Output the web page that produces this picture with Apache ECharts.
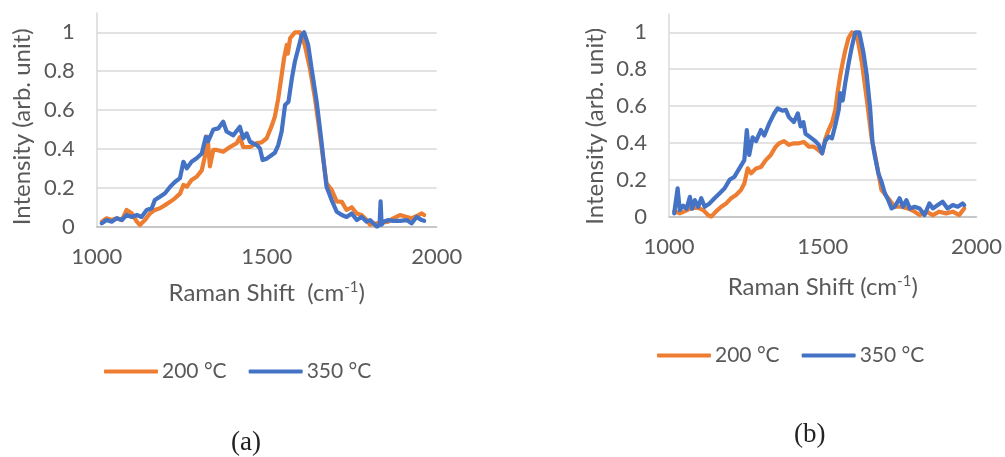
<!DOCTYPE html>
<html>
<head>
<meta charset="utf-8">
<script src="https://cdn.jsdelivr.net/npm/echarts@6/dist/echarts.min.js"></script>
<style>
  html, body { margin: 0; padding: 0; background: #fff; }
  #main { width: 1005px; height: 457px; }
</style>
</head>
<body>
<div id="main"></div>
<script>
// series names (legend)
var seriesNames = ['200 °C', '350 °C'];
var panelCaptions = ['(a)', '(b)'];

// panel (a): [Raman shift, intensity]
var a200 = [
  [1015, 0.026], [1029, 0.043], [1044, 0.034], [1059, 0.043], [1074, 0.034], [1088, 0.086],
  [1103, 0.069], [1118, 0.026], [1127, 0.009], [1142, 0.034], [1157, 0.069], [1171, 0.086],
  [1186, 0.095], [1201, 0.111], [1216, 0.128], [1230, 0.146], [1245, 0.17], [1255, 0.215],
  [1265, 0.206], [1279, 0.24], [1294, 0.257], [1309, 0.29], [1318, 0.36], [1326, 0.463],
  [1333, 0.31], [1343, 0.395], [1353, 0.395], [1372, 0.386], [1392, 0.41], [1412, 0.43],
  [1421, 0.46], [1431, 0.41], [1451, 0.41], [1471, 0.43], [1485, 0.434], [1500, 0.455],
  [1515, 0.52], [1524, 0.566], [1534, 0.66], [1544, 0.78], [1551, 0.866], [1559, 0.935],
  [1562, 0.89], [1569, 0.97], [1583, 1.0], [1598, 1.0], [1612, 0.935], [1627, 0.815],
  [1642, 0.66], [1657, 0.47], [1666, 0.35], [1676, 0.223], [1691, 0.19], [1706, 0.13],
  [1721, 0.128], [1735, 0.086], [1750, 0.1], [1765, 0.068], [1779, 0.06], [1794, 0.034],
  [1804, 0.01], [1824, 0.017], [1858, 0.026], [1872, 0.043], [1892, 0.06], [1912, 0.05],
  [1926, 0.043], [1941, 0.055], [1956, 0.068], [1963, 0.06]
];
var a350 = [
  [1015, 0.017], [1029, 0.034], [1044, 0.026], [1059, 0.043], [1074, 0.034], [1088, 0.06],
  [1103, 0.05], [1118, 0.06], [1132, 0.05], [1147, 0.086], [1162, 0.095], [1171, 0.137],
  [1186, 0.154], [1201, 0.172], [1216, 0.206], [1230, 0.23], [1245, 0.25], [1255, 0.334],
  [1265, 0.3], [1279, 0.334], [1294, 0.352], [1309, 0.377], [1321, 0.463], [1328, 0.44],
  [1343, 0.5], [1358, 0.506], [1372, 0.54], [1382, 0.49], [1402, 0.47], [1421, 0.514],
  [1431, 0.455], [1441, 0.48], [1451, 0.437], [1471, 0.42], [1480, 0.403], [1488, 0.343],
  [1500, 0.35], [1515, 0.369], [1524, 0.38], [1529, 0.37], [1534, 0.42], [1544, 0.49],
  [1554, 0.626], [1564, 0.643], [1574, 0.763], [1583, 0.85], [1593, 0.918], [1603, 0.986],
  [1610, 1.0], [1622, 0.935], [1632, 0.815], [1647, 0.643], [1660, 0.455], [1672, 0.266],
  [1676, 0.206], [1691, 0.137], [1706, 0.077], [1721, 0.06], [1735, 0.05], [1750, 0.068],
  [1765, 0.034], [1779, 0.05], [1794, 0.026], [1804, 0.034], [1824, 0.0], [1832, 0.01],
  [1835, 0.13], [1838, 0.01], [1843, 0.026], [1858, 0.034], [1872, 0.03], [1892, 0.03],
  [1912, 0.034], [1926, 0.017], [1941, 0.05], [1956, 0.034], [1963, 0.03]
];

// panel (b)
var b200 = [
  [1017, 0.03], [1035, 0.018], [1052, 0.03], [1073, 0.048], [1095, 0.048], [1111, 0.036],
  [1127, 0.009], [1137, 0.0], [1154, 0.03], [1170, 0.054], [1186, 0.072], [1202, 0.1],
  [1218, 0.118], [1234, 0.145], [1245, 0.18], [1256, 0.262], [1267, 0.235], [1283, 0.262],
  [1299, 0.27], [1315, 0.307], [1331, 0.335], [1347, 0.38], [1358, 0.398], [1374, 0.41],
  [1390, 0.39], [1406, 0.398], [1422, 0.398], [1439, 0.405], [1455, 0.38], [1471, 0.38],
  [1487, 0.36], [1498, 0.344], [1508, 0.42], [1519, 0.47], [1530, 0.51], [1541, 0.58],
  [1548, 0.67], [1557, 0.767], [1563, 0.82], [1573, 0.9], [1584, 0.97], [1595, 1.0],
  [1611, 0.985], [1627, 0.84], [1643, 0.64], [1659, 0.425], [1670, 0.335], [1691, 0.145],
  [1713, 0.1], [1734, 0.054], [1756, 0.054], [1777, 0.045], [1799, 0.027], [1815, 0.009],
  [1837, 0.027], [1858, 0.009], [1879, 0.027], [1901, 0.018], [1923, 0.027], [1944, 0.009],
  [1960, 0.045]
];
var b350 = [
  [1017, 0.018], [1028, 0.154], [1035, 0.036], [1046, 0.06], [1057, 0.043], [1068, 0.108],
  [1075, 0.043], [1084, 0.09], [1095, 0.054], [1105, 0.1], [1116, 0.054], [1132, 0.072],
  [1148, 0.1], [1165, 0.127], [1181, 0.154], [1197, 0.2], [1213, 0.217], [1229, 0.262],
  [1245, 0.307], [1253, 0.47], [1261, 0.335], [1272, 0.43], [1283, 0.41], [1299, 0.47],
  [1310, 0.44], [1326, 0.506], [1342, 0.56], [1353, 0.587], [1369, 0.575], [1380, 0.58],
  [1390, 0.54], [1406, 0.513], [1419, 0.56], [1428, 0.49], [1437, 0.513], [1444, 0.45],
  [1460, 0.43], [1476, 0.41], [1487, 0.39], [1498, 0.344], [1508, 0.41], [1519, 0.434],
  [1530, 0.425], [1541, 0.497], [1552, 0.58], [1557, 0.67], [1565, 0.63], [1573, 0.723],
  [1584, 0.83], [1595, 0.925], [1606, 1.0], [1619, 1.0], [1632, 0.894], [1643, 0.77],
  [1654, 0.59], [1662, 0.4], [1670, 0.325], [1681, 0.235], [1691, 0.19], [1702, 0.127],
  [1713, 0.09], [1724, 0.045], [1734, 0.054], [1750, 0.1], [1761, 0.054], [1772, 0.09],
  [1783, 0.045], [1799, 0.054], [1815, 0.045], [1831, 0.009], [1847, 0.072], [1858, 0.045],
  [1874, 0.063], [1890, 0.081], [1906, 0.045], [1923, 0.063], [1939, 0.054], [1955, 0.072],
  [1960, 0.063]
];

var txt = '#595959';
var font = 'Lato';

function xAx(idx, name, gap) {
  return {
    type: 'value', gridIndex: idx, min: 1000, max: 2000, interval: 500,
    name: name, nameLocation: 'middle', nameGap: gap,
    nameTextStyle: {
      color: txt, fontFamily: font, fontSize: 24,
      rich: { sup: { color: txt, fontFamily: font, fontSize: 15, verticalAlign: 'top', padding: [0, 0, 12, 0] } }
    },
    axisLine: { lineStyle: { color: '#bfbfbf', width: 1.5 } },
    axisTick: { show: false },
    axisLabel: { color: txt, fontFamily: font, fontSize: 22, margin: 19, formatter: function (v) { return String(v); } },
    splitLine: { show: false }
  };
}
function yAx(idx, pad) {
  return {
    type: 'value', gridIndex: idx, min: 0, max: 1.1, interval: 0.2,
    name: 'Intensity (arb. unit)', nameLocation: 'middle', nameGap: 62,
    nameTextStyle: { color: txt, fontFamily: font, fontSize: 24, padding: [0, pad, 0, 0] },
    axisLine: { show: true, lineStyle: { color: '#d9d9d9', width: 1.5 } },
    axisTick: { show: false },
    axisLabel: { color: txt, fontFamily: font, fontSize: 22, margin: 22, showMaxLabel: false },
    splitLine: { show: true, showMaxLine: false, lineStyle: { color: '#d9d9d9', width: 1.5 } }
  };
}
function line(name, idx, data, color) {
  return {
    name: name, type: 'line', xAxisIndex: idx, yAxisIndex: idx, data: data,
    showSymbol: false, symbol: 'none', smooth: false,
    lineStyle: { color: color, width: 4.2, cap: 'round', join: 'round' },
    itemStyle: { color: color }
  };
}
function legendAt(x, y) {
  return {
    data: seriesNames, left: x, top: y, icon: 'roundRect',
    itemWidth: 54, itemHeight: 4, itemGap: 22,
    textStyle: { color: txt, fontFamily: font, fontSize: 21, padding: [0, 0, 0, -1] }
  };
}

var chart = echarts.init(document.getElementById('main'));
chart.setOption({
  animation: false,
  backgroundColor: '#fff',
  color: ['#ED7D31', '#4472C4'],
  title: [
    { text: panelCaptions[0], left: 226, top: 424, textStyle: { fontFamily: 'Liberation Serif', fontSize: 27, fontWeight: 'normal', color: '#222' } },
    { text: panelCaptions[1], left: 789, top: 416, textStyle: { fontFamily: 'Liberation Serif', fontSize: 27, fontWeight: 'normal', color: '#222' } }
  ],
  legend: [legendAt(99, 356), legendAt(652, 340)],
  grid: [
    { left: 96.7, top: 12.9, width: 340, height: 213.8 },
    { left: 669, top: 13.9, width: 310, height: 202.8 }
  ],
  xAxis: [xAx(0, 'Raman Shift  (cm{sup|-1})', 53), xAx(1, 'Raman Shift (cm{sup|-1})', 57)],
  yAxis: [yAx(0, 14), yAx(1, 22)],
  series: [
    line(seriesNames[0], 0, a200, '#ED7D31'),
    line(seriesNames[1], 0, a350, '#4472C4'),
    line(seriesNames[0], 1, b200, '#ED7D31'),
    line(seriesNames[1], 1, b350, '#4472C4')
  ]
});
</script>
</body>
</html>
